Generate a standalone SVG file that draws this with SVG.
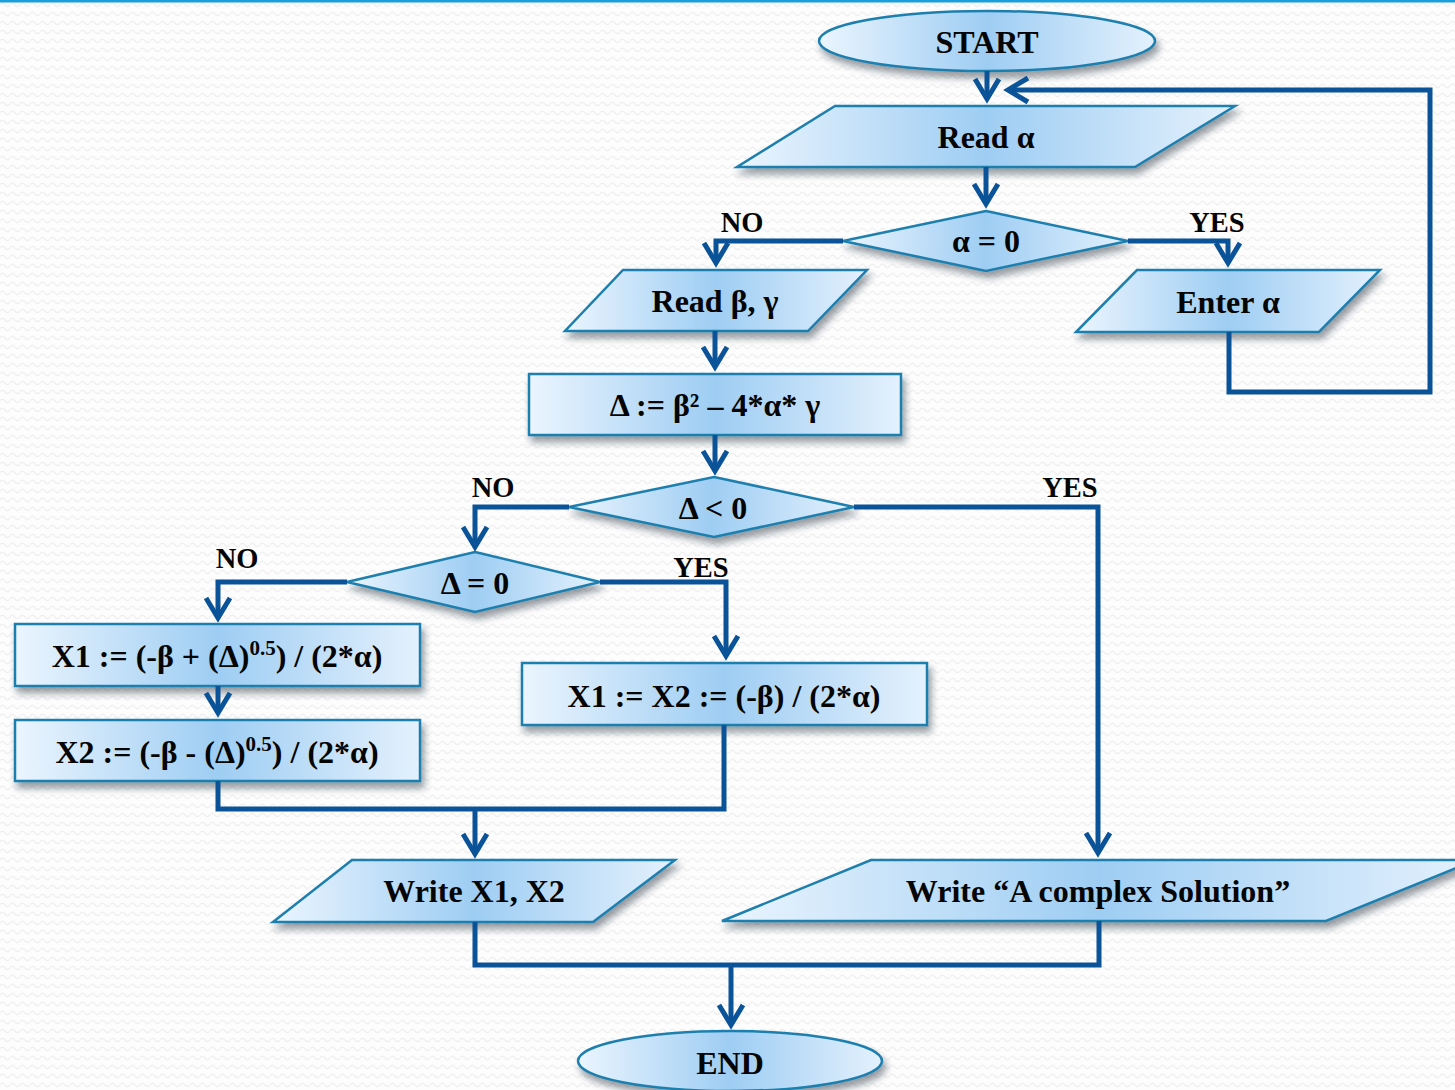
<svg xmlns="http://www.w3.org/2000/svg" width="1455" height="1090" viewBox="0 0 1455 1090">
  <defs>
    <style>
      .node { fill: url(#nodeFill); stroke: #1f7fae; stroke-width: 2.5; filter: url(#shadow); }
      .t { font-family: "Liberation Serif", "Times New Roman", serif; font-weight: bold; font-size: 32px; fill: #050505; text-anchor: middle; }
      .lbl { font-family: "Liberation Serif", "Times New Roman", serif; font-weight: bold; font-size: 28.5px; fill: #050505; text-anchor: middle; }
      .sup { font-size: 21px; }
      .conn { fill: none; stroke: #0b5398; stroke-width: 5; stroke-linejoin: miter; }
      .arrow { marker-end: url(#head); }
    </style>
    <!-- node fill: pale edges, deeper blue toward the middle -->
    <linearGradient id="nodeFill" x1="0" y1="0" x2="1" y2="0">
      <stop offset="0" stop-color="#ebf5fe"/>
      <stop offset="0.5" stop-color="#9ecdf3"/>
      <stop offset="1" stop-color="#e4f1fd"/>
    </linearGradient>
    <filter id="shadow" x="-10%" y="-20%" width="125%" height="160%">
      <feDropShadow dx="3" dy="6" stdDeviation="3.5" flood-color="#1c2733" flood-opacity="0.45"/>
    </filter>
    <!-- faint wavy backdrop -->
    <pattern id="waves" width="10" height="9" patternUnits="userSpaceOnUse">
      <path d="M0,5 Q2.5,1.5 5,5 T10,5" fill="none" stroke="#f0f0f0" stroke-width="1.3"/>
    </pattern>
    <!-- open chevron arrowhead -->
    <marker id="head" markerUnits="userSpaceOnUse" markerWidth="60" markerHeight="60" refX="0" refY="0" orient="auto" overflow="visible" viewBox="-30 -30 60 60">
      <path d="M-20,-12 L0,0 L-20,12" fill="none" stroke="#0b5398" stroke-width="5" stroke-linejoin="miter"/>
    </marker>
  </defs>

  <rect width="1455" height="1090" fill="#fdfdfd"/>
  <rect width="1455" height="1090" fill="url(#waves)"/>
  <rect x="0" y="0" width="1455" height="2.5" fill="#1a9fdc"/>

  <g id="start">
    <ellipse class="node" cx="987" cy="41" rx="168" ry="30"/>
    <text class="t" x="987" y="53">START</text>
  </g>
  <g id="read-alpha">
    <polygon class="node" points="835,106 1235,106 1135,167 737,167"/>
    <text class="t" x="986" y="148">Read α</text>
  </g>
  <g id="alpha-zero">
    <polygon class="node" points="986,211 1128,241 986,271 843,241"/>
    <text class="t" x="986" y="252">α = 0</text>
  </g>
  <g id="read-beta-gamma">
    <polygon class="node" points="623,270 867,270 808,331 565,331"/>
    <text class="t" x="715" y="312">Read β, γ</text>
  </g>
  <g id="enter-alpha">
    <polygon class="node" points="1137,270 1380,270 1319,332 1076,332"/>
    <text class="t" x="1228" y="313">Enter α</text>
  </g>
  <g id="discriminant">
    <rect class="node" x="529" y="374" width="372" height="61"/>
    <text class="t" x="715" y="416">Δ := β² – 4*α* γ</text>
  </g>
  <g id="delta-negative">
    <polygon class="node" points="714,477 854,507 714,537 569,507"/>
    <text class="t" x="713" y="519">Δ &lt; 0</text>
  </g>
  <g id="delta-zero">
    <polygon class="node" points="475,552 600,582 475,612 347,582"/>
    <text class="t" x="475" y="594">Δ = 0</text>
  </g>
  <g id="x1-root">
    <rect class="node" x="15" y="624" width="405" height="62"/>
    <text class="t" x="217" y="667">X1 := (-β + (Δ)<tspan class="sup" dy="-12">0.5</tspan><tspan dy="12">) / (2*α)</tspan></text>
  </g>
  <g id="x2-root">
    <rect class="node" x="15" y="720" width="405" height="61"/>
    <text class="t" x="217" y="763">X2 := (-β - (Δ)<tspan class="sup" dy="-12">0.5</tspan><tspan dy="12">) / (2*α)</tspan></text>
  </g>
  <g id="double-root">
    <rect class="node" x="522" y="663" width="405" height="62"/>
    <text class="t" x="724" y="707">X1 := X2 := (-β) / (2*α)</text>
  </g>
  <g id="write-roots">
    <polygon class="node" points="352,860 675,860 593,922 273,922"/>
    <text class="t" x="474" y="902">Write X1, X2</text>
  </g>
  <g id="write-complex">
    <polygon class="node" points="871,860 1476,860 1326,921 722,921"/>
    <text class="t" x="1098" y="902">Write “A complex Solution”</text>
  </g>
  <g id="end">
    <ellipse class="node" cx="730" cy="1061" rx="152" ry="30"/>
    <text class="t" x="730" y="1074">END</text>
  </g>

  <g id="connectors">
    <path class="conn arrow" d="M987,71 V99"/>
    <path class="conn arrow" d="M1229,332 V392 H1430 V90 H1008"/>
    <path class="conn arrow" d="M986,167 V204"/>
    <path class="conn arrow" d="M843,241 H716 V263"/>
    <path class="conn arrow" d="M1128,241 H1228 V263"/>
    <path class="conn arrow" d="M715,331 V367"/>
    <path class="conn arrow" d="M715,435 V471"/>
    <path class="conn arrow" d="M569,507 H475 V547"/>
    <path class="conn arrow" d="M854,507 H1098 V853"/>
    <path class="conn arrow" d="M347,582 H218 V618"/>
    <path class="conn arrow" d="M600,582 H726 V656"/>
    <path class="conn arrow" d="M218,686 V713"/>
    <path class="conn" d="M218,781 V809 H724 V725"/>
    <path class="conn arrow" d="M475,809 V854"/>
    <path class="conn" d="M475,922 V965 H1099 V921"/>
    <path class="conn arrow" d="M731,965 V1025"/>
  </g>

  <g id="labels">
    <text class="lbl" x="742" y="232">NO</text>
    <text class="lbl" x="1217" y="232">YES</text>
    <text class="lbl" x="493" y="497">NO</text>
    <text class="lbl" x="1070" y="497">YES</text>
    <text class="lbl" x="237" y="568">NO</text>
    <text class="lbl" x="701" y="577">YES</text>
  </g>
</svg>
